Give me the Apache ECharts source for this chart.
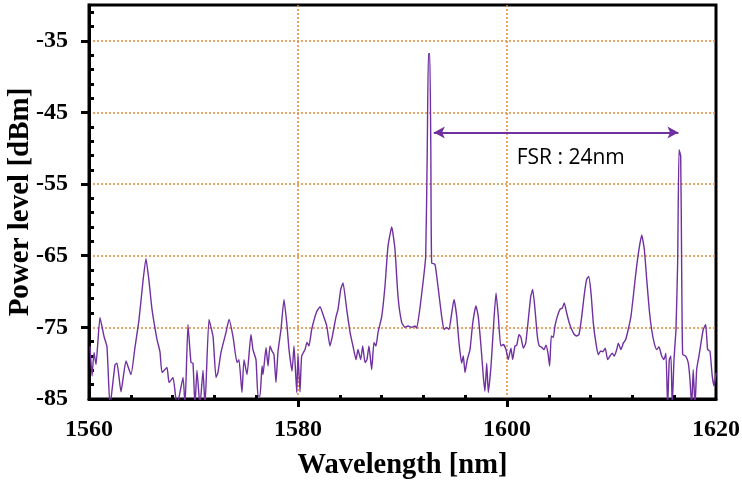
<!DOCTYPE html>
<html>
<head>
<meta charset="utf-8">
<script src="https://cdn.jsdelivr.net/npm/echarts@6/dist/echarts.min.js"></script>
<style>
html,body{margin:0;padding:0;background:#fff;}
#chart{width:742px;height:483px;}
</style>
</head>
<body>
<div id="chart"></div>
<script>
// ---- data ----
const wavelengths = [
1560.1,1560.29,1560.48,1560.67,1561.05,1561.44,1561.72,1562.01,1562.49,1562.68,1563.06,1563.54,1564.02,1564.4,1564.78,1565.17,1565.45,1565.74,1566.03,1566.51,1566.79,1566.99,1567.46,1567.66,1568.04,1568.42,1569.0,1569.19,1569.47,1569.76,1569.95,1570.14,1570.33,1570.62,1570.91,1571.1,1571.48,1571.87,1572.15,1572.34,1572.63,1573.11,1573.4,1573.78,1574.16,1574.35,1574.64,1574.83,1575.12,1575.5,1575.69,1575.98,1576.17,1576.36,1576.56,1576.65,1576.94,1577.13,1577.32,1577.51,1577.7,1577.89,1578.09,1578.37,1578.66,1578.95,1579.14,1579.43,1579.62,1579.88,1580.0,1580.19,1580.35,1580.67,1580.86,1581.05,1581.31,1581.79,1582.11,1582.39,1582.75,1583.06,1583.32,1583.64,1583.83,1584.09,1584.31,1584.66,1584.98,1585.26,1585.55,1585.74,1586.0,1586.19,1586.41,1586.6,1586.79,1587.05,1587.27,1587.46,1587.66,1588.01,1588.32,1588.61,1588.97,1589.28,1589.57,1589.92,1590.24,1590.53,1590.88,1591.2,1591.36,1591.67,1591.96,1592.22,1592.37,1592.48,1592.61,1592.71,1592.79,1593.11,1593.43,1593.75,1593.97,1594.23,1594.45,1594.71,1594.93,1595.19,1595.41,1595.66,1595.82,1595.98,1596.2,1596.46,1596.72,1597.03,1597.25,1597.51,1597.73,1597.89,1598.06,1598.21,1598.47,1598.69,1598.95,1599.17,1599.4,1599.65,1599.9,1600.12,1600.38,1600.54,1600.76,1600.93,1601.15,1601.34,1601.56,1601.79,1602.04,1602.27,1602.46,1602.68,1602.9,1603.09,1603.32,1603.54,1603.73,1603.92,1604.08,1604.24,1604.43,1604.59,1604.81,1605.07,1605.29,1605.48,1605.71,1605.96,1606.19,1606.44,1606.67,1606.89,1607.15,1607.37,1607.62,1607.82,1608.04,1608.26,1608.51,1608.73,1608.96,1609.18,1609.4,1609.63,1609.85,1610.07,1610.27,1610.5,1610.65,1610.91,1611.13,1611.36,1611.6,1611.86,1612.12,1612.37,1612.63,1612.89,1613.14,1613.37,1613.61,1613.84,1614.09,1614.32,1614.54,1614.8,1615.02,1615.21,1615.37,1615.53,1615.69,1615.81,1615.98,1616.17,1616.33,1616.46,1616.62,1616.71,1616.81,1617.1,1617.35,1617.51,1617.67,1617.82,1617.99,1618.15,1618.37,1618.56,1618.78,1619.01,1619.2,1619.42,1619.64,1619.83,1620.0
];
const powers = [
-77.7,-81.8,-78.5,-80.2,-73.6,-76.3,-77.7,-86,-80.2,-80,-84,-79.7,-81.6,-77.8,-74,-68.5,-65.4,-68.5,-72.5,-76.7,-78.4,-81.3,-80.6,-82.7,-82,-86,-82,-86,-74.6,-79.9,-80,-86,-81,-86,-81,-86,-73.9,-76.3,-82,-81.3,-78.5,-75.7,-73.9,-76.3,-79.9,-79.5,-84.1,-79.5,-81.6,-76,-78.1,-79.5,-84.6,-84.6,-80.4,-81.6,-77.8,-80.4,-77.6,-78.3,-78.8,-82.7,-78.3,-75.3,-71.1,-74.8,-78.1,-81.1,-77.6,-84.1,-78.8,-84,-79,-78.1,-77.1,-77.6,-75.3,-72.8,-72.1,-73.2,-74.8,-77.6,-76,-73.5,-72.5,-69.7,-68.8,-72.5,-75.7,-77.6,-79.5,-78.1,-79.5,-77.6,-79.9,-79.5,-77.6,-80.9,-77.1,-77.6,-75.7,-73.5,-69.3,-63.7,-61,-64.1,-70.7,-74.3,-75,-74.8,-75,-74.8,-75.1,-72.3,-68.8,-65.1,-50,-36.8,-36.8,-50,-66,-66.2,-69.7,-73.5,-75.3,-75,-75.3,-73,-71.1,-73.5,-77.2,-80,-79,-81.3,-79.5,-78.1,-74.4,-72,-73.5,-77.6,-81.8,-83.9,-80,-84.1,-80.4,-75.3,-70.2,-73.5,-77.6,-77.4,-78.1,-79.5,-77.9,-79.5,-77.6,-77.5,-76,-76.4,-77.9,-77.2,-73.9,-70.7,-69.7,-72.5,-76.2,-77.6,-77.8,-78.1,-77.5,-78.6,-80.4,-76.2,-76.4,-74.8,-73.5,-72.5,-72.3,-71.6,-73,-74.4,-75.3,-76,-76.2,-76,-73.5,-70.7,-68.3,-67.9,-70.2,-74.4,-77.2,-78.8,-78.3,-78.4,-77.9,-79.5,-79,-78.6,-79,-78.1,-77.2,-78.1,-77.2,-76.7,-75.3,-73.5,-70.2,-66.9,-64.1,-62.1,-64.1,-68.3,-72.5,-75.3,-77.2,-78.1,-77.7,-79,-79.5,-78.6,-86,-79.5,-79,-86,-79.5,-75.3,-66,-50.2,-51.1,-66,-78.8,-79,-80,-82.3,-86,-80.9,-86,-80.9,-79,-77.2,-75.3,-74.6,-78.1,-78.3,-81.8,-83.2,-81.4
];
const xTickLabels = [1560, 1580, 1600, 1620];
const xGridTicks = [1580, 1600];
const xMinorTicks = [1564, 1568, 1572, 1576, 1584, 1588, 1592, 1596, 1604, 1608, 1612, 1616];
const yTickLabels = [-85, -75, -65, -55, -45, -35];
const yGridTicks = [-75, -65, -55, -45, -35];
const yMinorTicks = [-83, -81, -79, -77, -73, -71, -69, -67, -63, -61, -59, -57, -53, -51, -49, -47, -43, -41, -39, -37, -33, -31];
const xRange = [1560, 1620];
const yRange = [-85, -30];
const fsrStart = 1593.0;
const fsrEnd = 1616.4;
const fsrLevel = -47.8;
const fsrLabel = 'FSR : 24nm';
const fsrLabelPos = [1606.1, -51.3];

// ---- chart ----
const serif = '"Liberation Serif", "Times New Roman", serif';
const gridColor = '#E0883A';
const lineColor = '#7030A0';
const seriesData = wavelengths.map((w, i) => [w, powers[i]]);

const chart = echarts.init(document.getElementById('chart'), null, {renderer: 'canvas'});
chart.setOption({
  animation: false,
  grid: {left: 89, right: 26, top: 5, bottom: 84, show: true, borderColor: '#000', borderWidth: 3, backgroundColor: 'transparent', outerBoundsMode: 'none', containLabel: false},
  xAxis: [{
    type: 'value', min: xRange[0], max: xRange[1], position: 'bottom',
    name: 'Wavelength [nm]', nameLocation: 'middle', nameGap: 52, nameMoveOverlap: false,
    nameTextStyle: {fontFamily: serif, fontWeight: 'bold', fontSize: 28.5, color: '#000'},
    axisLine: {show: true, lineStyle: {color: '#000', width: 3}},
    axisTick: {show: true, inside: false, length: 8, lineStyle: {color: '#000', width: 3}, customValues: xGridTicks},
    axisLabel: {show: true, customValues: xTickLabels, formatter: v => String(v), fontFamily: serif, fontWeight: 'bold', fontSize: 24, color: '#000', margin: 19},
    splitLine: {show: true, lineStyle: {color: gridColor, type: [2, 2], width: 1.5}}
  }, {
    type: 'value', min: xRange[0], max: xRange[1], position: 'bottom', offset: 0,
    axisLine: {show: false},
    axisTick: {show: true, inside: true, length: 4, lineStyle: {color: '#000', width: 3}, customValues: xMinorTicks},
    axisLabel: {show: false},
    splitLine: {show: false}
  }],
  yAxis: [{
    type: 'value', min: yRange[0], max: yRange[1], position: 'left',
    name: 'Power level [dBm]', nameLocation: 'middle', nameGap: 54, nameMoveOverlap: false,
    nameTextStyle: {fontFamily: serif, fontWeight: 'bold', fontSize: 29, color: '#000'},
    axisLine: {show: true, lineStyle: {color: '#000', width: 3}},
    axisTick: {show: true, inside: false, length: 8, lineStyle: {color: '#000', width: 3}, customValues: yGridTicks},
    axisLabel: {show: true, customValues: yTickLabels, formatter: v => String(v), fontFamily: serif, fontWeight: 'bold', fontSize: 24, color: '#000', margin: 21},
    splitLine: {show: true, lineStyle: {color: gridColor, type: [2, 2], width: 1.5}}
  }, {
    type: 'value', min: yRange[0], max: yRange[1], position: 'left', offset: 0,
    axisLine: {show: false},
    axisTick: {show: true, inside: true, length: 5, lineStyle: {color: '#000', width: 3}, customValues: yMinorTicks},
    axisLabel: {show: false},
    splitLine: {show: false}
  }],
  series: [{
    type: 'line',
    xAxisIndex: 0, yAxisIndex: 0,
    data: seriesData,
    showSymbol: false,
    symbol: 'none',
    smooth: 0.15,
    clip: true,
    lineStyle: {color: lineColor, width: 1.4, join: 'round', cap: 'round'},
    z: 3,
    markLine: {
      silent: true,
      symbol: ['arrow', 'arrow'],
      symbolSize: [9, 11],
      lineStyle: {color: lineColor, width: 2, type: 'solid'},
      label: {show: false},
      data: [[{coord: [fsrStart, fsrLevel]}, {coord: [fsrEnd, fsrLevel]}]]
    },
    markPoint: {
      silent: true,
      symbol: 'circle', symbolSize: 0,
      label: {show: true, formatter: fsrLabel, fontFamily: '"Open Sans", "Noto Sans", sans-serif', fontSize: 21, color: '#000', position: 'inside'},
      data: [{coord: fsrLabelPos}]
    }
  }]
});
</script>
</body>
</html>
